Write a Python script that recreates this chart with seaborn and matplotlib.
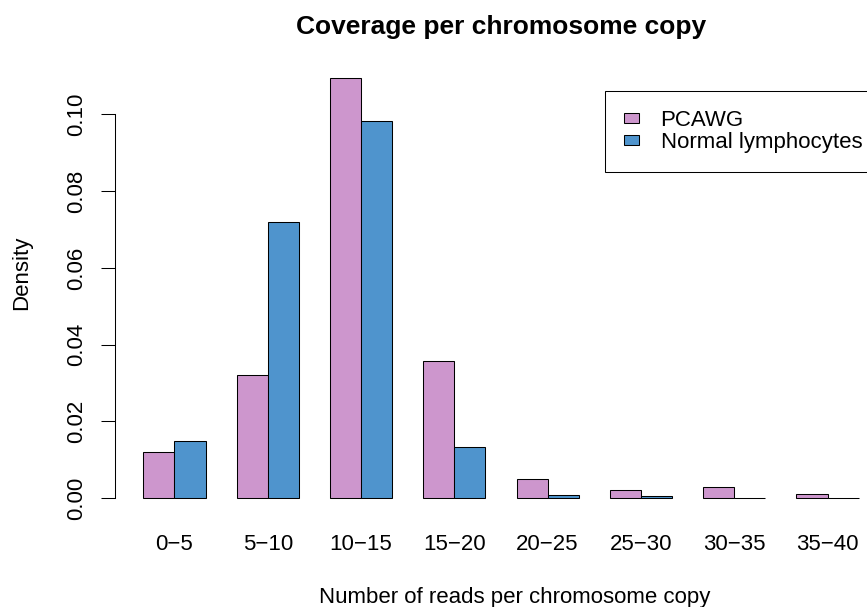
import pandas as pd
import matplotlib
matplotlib.use('Agg')
import matplotlib.pyplot as plt
import seaborn as sns


sns.set_style('white')
plt.rcParams['font.family'] = ['Liberation Sans', 'DejaVu Sans']
plt.rcParams['text.color'] = 'black'
plt.rcParams['axes.labelcolor'] = 'black'
plt.rcParams['xtick.color'] = 'black'
plt.rcParams['ytick.color'] = 'black'

# values
bins = ['0\u22125', '5\u221210', '10\u221215', '15\u221220',
        '20\u221225', '25\u221230', '30\u221235', '35\u221240']
pcawg = [0.012, 0.032, 0.1095, 0.0358, 0.005, 0.002, 0.003, 0.001]
normal = [0.015, 0.072, 0.0982, 0.0133, 0.0008, 0.0005, 0.0, 0.0]
groups = ['PCAWG', 'Normal lymphocytes']
colors = {'PCAWG': '#CD96CD', 'Normal lymphocytes': '#4F94CD'}

df = pd.DataFrame({
    'bin': bins * 2,
    'density': pcawg + normal,
    'source': [groups[0]] * len(bins) + [groups[1]] * len(bins),
})

fig = plt.figure(figsize=(8.67, 6.07), dpi=100)
ax = fig.add_axes([114.7 / 867, 92 / 607, 752.3 / 867, 455 / 607])

sns.barplot(
    data=df,
    x='bin',
    y='density',
    hue='source',
    hue_order=groups,
    palette=colors,
    width=2 / 3,
    gap=0,
    saturation=1,
    edgecolor='black',
    linewidth=0.75,
    errorbar=None,
    ax=ax
)

ax.set_xlim(-0.64, 7.423)
ax.set_ylim(-0.0044, 0.1142)
ax.set_yticks([0, 0.02, 0.04, 0.06, 0.08, 0.10])
ax.set_yticklabels(['0.00', '0.02', '0.04', '0.06', '0.08', '0.10'],
                   rotation=90, va='center')

for side in ['top', 'right', 'bottom']:
    ax.spines[side].set_visible(False)
ax.spines['left'].set_bounds(0, 0.10)
ax.spines['left'].set_linewidth(0.75)
ax.spines['left'].set_color('black')

ax.tick_params(axis='x', length=0, pad=13.5, labelsize=16)
ax.tick_params(axis='y', left=True, length=10, width=0.75, color='black',
               pad=9.5, labelsize=16)

ax.set_xlabel('Number of reads per chromosome copy', fontsize=16, va='baseline')
ax.xaxis.set_label_coords(0.532, -0.1934)
ax.set_ylabel('Density', fontsize=16, va='center')
ax.yaxis.set_label_coords(-0.1232, 0.532)

fig.suptitle('Coverage per chromosome copy', x=501.5 / 867, y=1 - 27 / 607,
             va='center', fontsize=19, fontweight='bold')

handles, labels = ax.get_legend_handles_labels()
ax.legend(
    handles, labels,
    loc='upper left',
    bbox_to_anchor=(605 / 867, 1 - 91 / 607),
    bbox_transform=fig.transFigure,
    fontsize=16,
    frameon=True,
    fancybox=False,
    edgecolor='black',
    framealpha=1,
    borderpad=0.85,
    labelspacing=0.05,
    handlelength=0.7,
    handleheight=0.36,
    handletextpad=0.95,
    borderaxespad=0,
)
ax.get_legend().get_frame().set_linewidth(0.75)

plt.savefig('out.png', dpi=100)
